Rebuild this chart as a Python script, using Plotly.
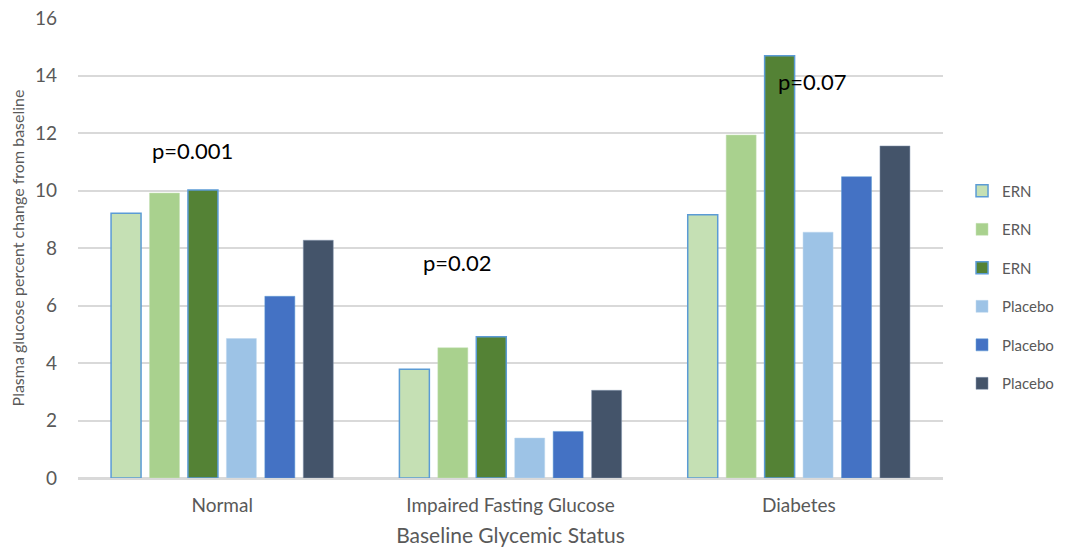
import plotly.graph_objects as go

categories = ["Normal", "Impaired Fasting Glucose", "Diabetes"]
series_names = ["ERN", "ERN", "ERN", "Placebo", "Placebo", "Placebo"]
s1 = [9.21, 3.78, 9.16]
s2 = [9.91, 4.53, 11.93]
s3 = [10.02, 4.91, 14.69]
s4 = [4.85, 1.39, 8.55]
s5 = [6.32, 1.62, 10.48]
s6 = [8.27, 3.05, 11.55]
values = [s1, s2, s3, s4, s5, s6]
colors = ["#C5E0B4", "#A9D18E", "#548235", "#9DC3E6", "#4472C4", "#44546A"]
line_colors = ["#5B9BD5", "#C5E0B4", "#5B9BD5", "#BDD7EE", "#5B9BD5", "#8497B0"]
line_widths = [1.5, 0.5, 1.5, 0.5, 0.5, 0.5]

p_labels = ["p=0.001", "p=0.02", "p=0.07"]
p_y = [11.4, 7.5, 13.8]

FONT = "Lato, 'Open Sans', sans-serif"
GRAY = "#595959"

fig = go.Figure()
for i, (name, vals) in enumerate(zip(series_names, values)):
    fig.add_trace(go.Bar(
        x=categories, y=vals, name=name,
        marker=dict(color=colors[i], line=dict(color=line_colors[i], width=line_widths[i])),
        legendgroup=f"g{i}",
    ))

offsets = [-0.104, -0.184, 0.049]
for cat, lab, yy, off in zip(categories, p_labels, p_y, offsets):
    fig.add_annotation(x=cat, y=yy, text=lab, showarrow=False,
                       xshift=off * 289, font=dict(size=22, color="#000000", family=FONT))

fig.update_layout(
    width=1071, height=553,
    margin=dict(l=78, r=126, t=18, b=75),
    paper_bgcolor="white", plot_bgcolor="white",
    barmode="group", bargap=0.2, bargroupgap=0.22,
    font=dict(family=FONT, color=GRAY, size=15),
    legend=dict(x=1.022, y=0.415, xanchor="left", yanchor="middle",
                traceorder="grouped", tracegroupgap=16,
                font=dict(size=15, color=GRAY, family=FONT)),
    xaxis=dict(title=dict(text="Baseline Glycemic Status", font=dict(size=21, color=GRAY), standoff=14),
               automargin=False,
               showline=True, linecolor="#D9D9D9", linewidth=1.5, ticks="",
               tickfont=dict(size=19, color=GRAY), ticklabelstandoff=9),
    yaxis=dict(title=dict(text="Plasma glucose percent change from baseline", font=dict(size=16, color=GRAY), standoff=6),
               automargin=False,
               range=[0, 16], dtick=2, showgrid=True, gridcolor="#D9D9D9", gridwidth=1.5,
               zeroline=True, zerolinecolor="#D9D9D9", zerolinewidth=1.5,
               tickfont=dict(size=19, color=GRAY), ticks="", ticklabelstandoff=20),
)

fig.write_html("out.html", config={"displayModeBar": False},
               post_script="document.body.style.margin='0';")
